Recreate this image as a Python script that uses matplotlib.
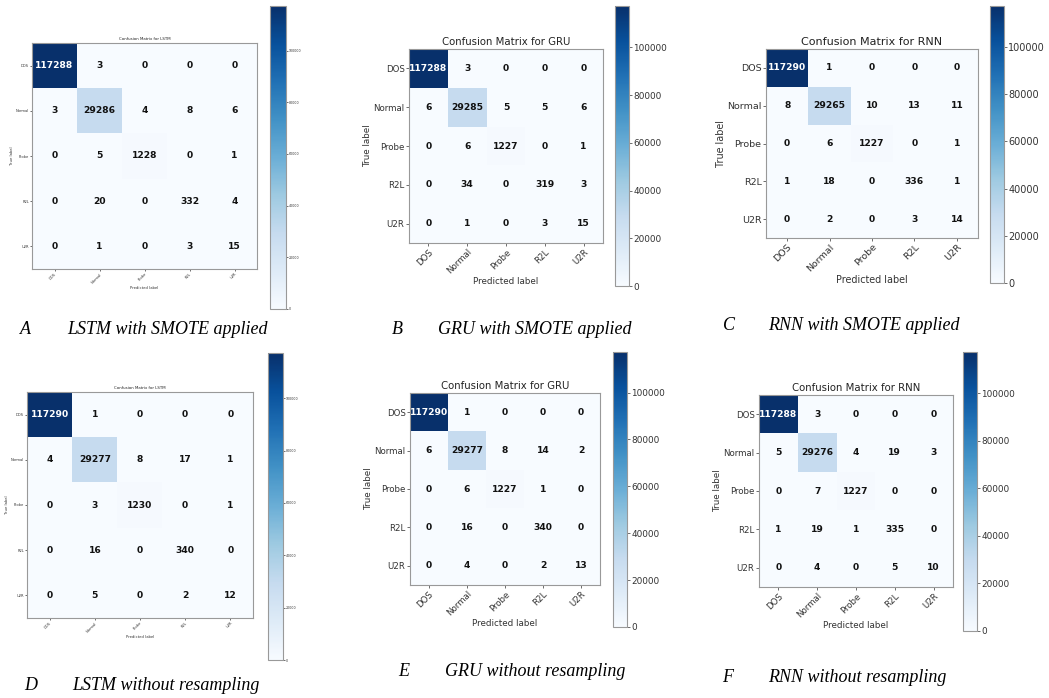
import numpy as np
from matplotlib import pyplot as plt

W, H = 1049, 698

classes = ["DOS", "Normal", "Probe", "R2L", "U2R"]

lstm_smote = [[117288, 3, 0, 0, 0],
              [3, 29286, 4, 8, 6],
              [0, 5, 1228, 0, 1],
              [0, 20, 0, 332, 4],
              [0, 1, 0, 3, 15]]
gru_smote = [[117288, 3, 0, 0, 0],
             [6, 29285, 5, 5, 6],
             [0, 6, 1227, 0, 1],
             [0, 34, 0, 319, 3],
             [0, 1, 0, 3, 15]]
rnn_smote = [[117290, 1, 0, 0, 0],
             [8, 29265, 10, 13, 11],
             [0, 6, 1227, 0, 1],
             [1, 18, 0, 336, 1],
             [0, 2, 0, 3, 14]]
lstm_plain = [[117290, 1, 0, 0, 0],
              [4, 29277, 8, 17, 1],
              [0, 3, 1230, 0, 1],
              [0, 16, 0, 340, 0],
              [0, 5, 0, 2, 12]]
gru_plain = [[117290, 1, 0, 0, 0],
             [6, 29277, 8, 14, 2],
             [0, 6, 1227, 1, 0],
             [0, 16, 0, 340, 0],
             [0, 4, 0, 2, 13]]
rnn_plain = [[117288, 3, 0, 0, 0],
             [5, 29276, 4, 19, 3],
             [0, 7, 1227, 0, 0],
             [1, 19, 1, 335, 0],
             [0, 4, 0, 5, 10]]

captions = [("A", "LSTM with SMOTE applied"),
            ("B", "GRU with SMOTE applied"),
            ("C", "RNN with SMOTE applied"),
            ("D", "LSTM without resampling"),
            ("E", "GRU without resampling"),
            ("F", "RNN without resampling")]


def rect(x0, y0, x1, y1):
    # pixel box (top-left origin) -> figure fraction
    return [x0 / W, 1 - y1 / H, (x1 - x0) / W, (y1 - y0) / H]


def plot_cm(fig, box, cbox, cm, title, small=False, scale=1.0):
    cm = np.array(cm)
    ax = fig.add_axes(rect(*box))
    cax = fig.add_axes(rect(*cbox))
    if small:
        fs_title, fs_tick, fs_cb, tl = 2.8, 2.6, 2.3, 1.2
    else:
        fs_title, fs_tick, fs_cb, tl = 7.3 * scale, 6.2 * scale, 6.4 * scale, 2.2
    im = ax.imshow(cm, interpolation="nearest", cmap=plt.cm.Blues, aspect="auto")
    ax.set_title(title, fontsize=fs_title, pad=2 if small else 3, color="#222222")
    ax.set_xticks(np.arange(len(classes)))
    ax.set_yticks(np.arange(len(classes)))
    ax.set_xticklabels(classes, rotation=45, ha="right", rotation_mode="anchor")
    ax.set_yticklabels(classes)
    ax.tick_params(labelsize=fs_tick, length=tl, width=0.5, pad=1, colors="#333333")
    ax.set_xlabel("Predicted label", fontsize=fs_tick + 0.1, labelpad=1, color="#333333")
    ax.set_ylabel("True label", fontsize=fs_tick + 0.1, labelpad=1, color="#333333")
    for s in ax.spines.values():
        s.set_linewidth(0.8)
        s.set_color("#999999")

    thresh = cm.max() / 2.
    for i in range(cm.shape[0]):
        for j in range(cm.shape[1]):
            ax.text(j, i, format(cm[i, j], "d"), ha="center", va="center",
                    fontsize=6.6, fontweight="bold",
                    color="white" if cm[i, j] > thresh else "#111111")

    cb = fig.colorbar(im, cax=cax, ticks=np.arange(0, 100001, 20000))
    cb.ax.tick_params(labelsize=fs_cb, length=tl, width=0.5, pad=1, colors="#333333")
    cb.outline.set_linewidth(0.8)
    cb.outline.set_edgecolor("#999999")


fig = plt.figure(figsize=(W / 100, H / 100), dpi=100)

plot_cm(fig, (32, 43, 257, 269), (270, 6, 286, 309), lstm_smote,
        "Confusion Matrix for LSTM", small=True)
plot_cm(fig, (409, 49, 603, 243), (615, 6, 629, 286), gru_smote,
        "Confusion Matrix for GRU")
plot_cm(fig, (766, 49, 978, 238), (990, 6, 1004, 283), rnn_smote,
        "Confusion Matrix for RNN", scale=1.1)
plot_cm(fig, (27, 392, 253, 618), (268, 353, 283, 660), lstm_plain,
        "Confusion Matrix for LSTM", small=True)
plot_cm(fig, (410, 393, 600, 585), (613, 352, 627, 627), gru_plain,
        "Confusion Matrix for GRU")
plot_cm(fig, (759, 395, 953, 587), (963, 352, 977, 631), rnn_plain,
        "Confusion Matrix for RNN")

# sub-figure captions
cap_pos = [(20, 67, 330), (392, 438, 330), (723, 768, 325),
           (24, 72, 685), (398, 445, 671), (722, 768, 677)]
for (letter, text), (xl, xt, y) in zip(captions, cap_pos):
    fig.text(xl / W, 1 - y / H, letter, fontsize=13, style="italic",
             family="Liberation Serif", va="center", ha="left")
    fig.text(xt / W, 1 - y / H, text, fontsize=13, style="italic",
             family="Liberation Serif", va="center", ha="left")

fig.savefig("out.png", dpi=100)
